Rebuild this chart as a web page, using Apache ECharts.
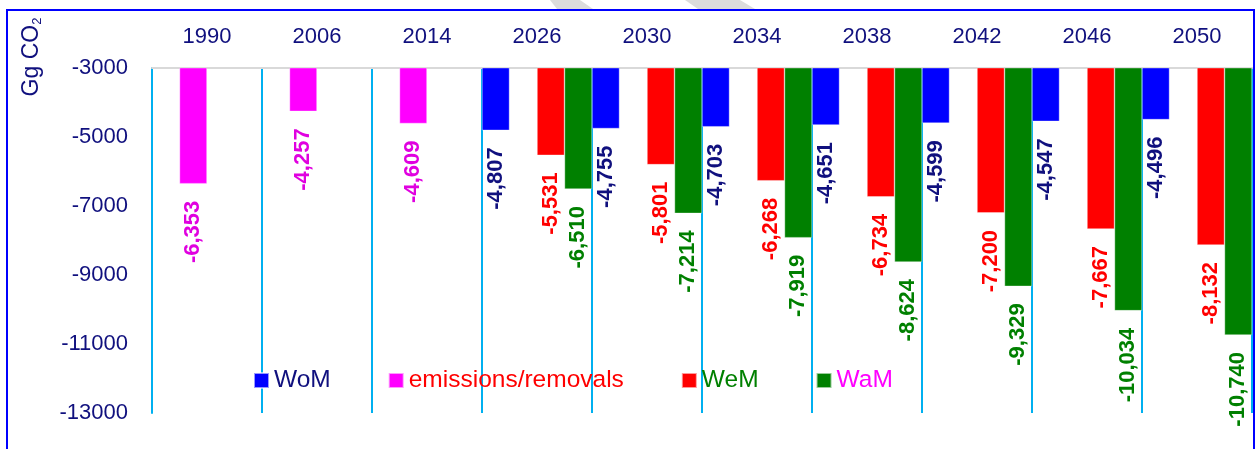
<!DOCTYPE html>
<html>
<head>
<meta charset="utf-8">
<script src="https://cdn.jsdelivr.net/npm/echarts@6/dist/echarts.min.js"></script>
<style>
html,body{margin:0;padding:0;background:#fff;}
#chart{width:1255px;height:449px;}
</style>
</head>
<body>
<div id="chart"></div>
<script>
const categories = ['1990','2006','2014','2026','2030','2034','2038','2042','2046','2050'];
const womValues = [null,null,null,-4807,-4755,-4703,-4651,-4599,-4547,-4496];
const emissionsValues = [-6353,-4257,-4609,null,null,null,null,null,null,null];
const wemValues = [null,null,null,-5531,-5801,-6268,-6734,-7200,-7667,-8132];
const wamValues = [null,null,null,-6510,-7214,-7919,-8624,-9329,-10034,-10740];
const yTicks = [-3000,-5000,-7000,-9000,-11000,-13000];

const FONT = 'Liberation Sans';
const NAVY = '#10107e';

function fmt(v){ return Math.round(v).toLocaleString('en-US'); }

function mkSeries(name, data, color, labelColor){
  return {
    name: name,
    type: 'bar',
    data: data.map(v => v === null ? '-' : v),
    barGap: '0%',
    barCategoryGap: '0%',
    itemStyle: {color: color, borderColor: 'rgba(255,255,255,0.6)', borderWidth: 0.6},
    label: {
      show: true,
      position: 'bottom',
      distance: 17,
      rotate: 90,
      align: 'right',
      verticalAlign: 'middle',
      color: labelColor,
      fontWeight: 'bold',
      fontSize: 22,
      fontFamily: FONT,
      formatter: p => fmt(p.value)
    },
    emphasis: {disabled: true}
  };
}

const chart = echarts.init(document.getElementById('chart'), null, {renderer: 'canvas'});
chart.setOption({
  animation: false,
  backgroundColor: '#fff',
  grid: {left: 152, right: 3, top: 68, bottom: 36, containLabel: false},
  legend: {
    left: 253,
    top: 368,
    padding: 0,
    itemWidth: 15,
    itemHeight: 15,
    itemGap: 57,
    selectedMode: false,
    icon: 'rect',
    textStyle: {fontSize: 24.5, fontFamily: FONT},
    data: [
      {name: 'WoM', textStyle: {color: NAVY}},
      {name: 'emissions/removals', textStyle: {color: '#ff0000'}},
      {name: 'WeM', textStyle: {color: '#008000'}},
      {name: 'WaM', textStyle: {color: '#ff00ff'}}
    ]
  },
  xAxis: {
    type: 'category',
    position: 'top',
    data: categories,
    boundaryGap: true,
    axisLine: {show: true, lineStyle: {color: '#d9d9d9', width: 2}},
    axisTick: {show: false},
    axisLabel: {color: NAVY, fontSize: 22, fontFamily: FONT, margin: 20, interval: 0},
    splitLine: {show: true, interval: 0, lineStyle: {color: '#00b0f0', width: 2}}
  },
  yAxis: {
    type: 'value',
    min: -13000,
    max: -3000,
    axisLine: {show: true, lineStyle: {color: '#00b0f0', width: 2}},
    axisTick: {show: false},
    splitLine: {show: false},
    axisLabel: {
      color: NAVY, fontSize: 22, fontFamily: FONT, margin: 24,
      customValues: yTicks,
      formatter: v => String(v)
    }
  },
  series: [
    mkSeries('WoM', womValues, '#0000ff', NAVY),
    mkSeries('emissions/removals', emissionsValues, '#ff00ff', '#e000e0'),
    mkSeries('WeM', wemValues, '#ff0000', '#ff0000'),
    mkSeries('WaM', wamValues, '#008000', '#008000')
  ],
  graphic: [
    {type: 'polygon', silent: true, z: -1, shape: {points: [[550,0],[580,0],[593,9],[557,9]]}, style: {fill: '#dcdcdc'}},
    {type: 'polygon', silent: true, z: -1, shape: {points: [[685,0],[740,0],[755,9],[698,9]]}, style: {fill: '#dcdcdc'}},
    {type: 'rect', silent: true, z: 100, shape: {x: 7, y: 10, width: 1247, height: 460}, style: {fill: 'none', stroke: '#0000ff', lineWidth: 2}},
    {
      type: 'text', silent: true, x: 32, y: 57, rotation: Math.PI / 2,
      style: {
        text: '{a|Gg CO}{b|2}',
        align: 'center', verticalAlign: 'middle',
        rich: {
          a: {fontSize: 23, fontFamily: FONT, fill: NAVY, color: NAVY},
          b: {fontSize: 13, fontFamily: FONT, fill: NAVY, color: NAVY, padding: [10,0,0,0]}
        }
      }
    }
  ]
});
</script>
</body>
</html>
